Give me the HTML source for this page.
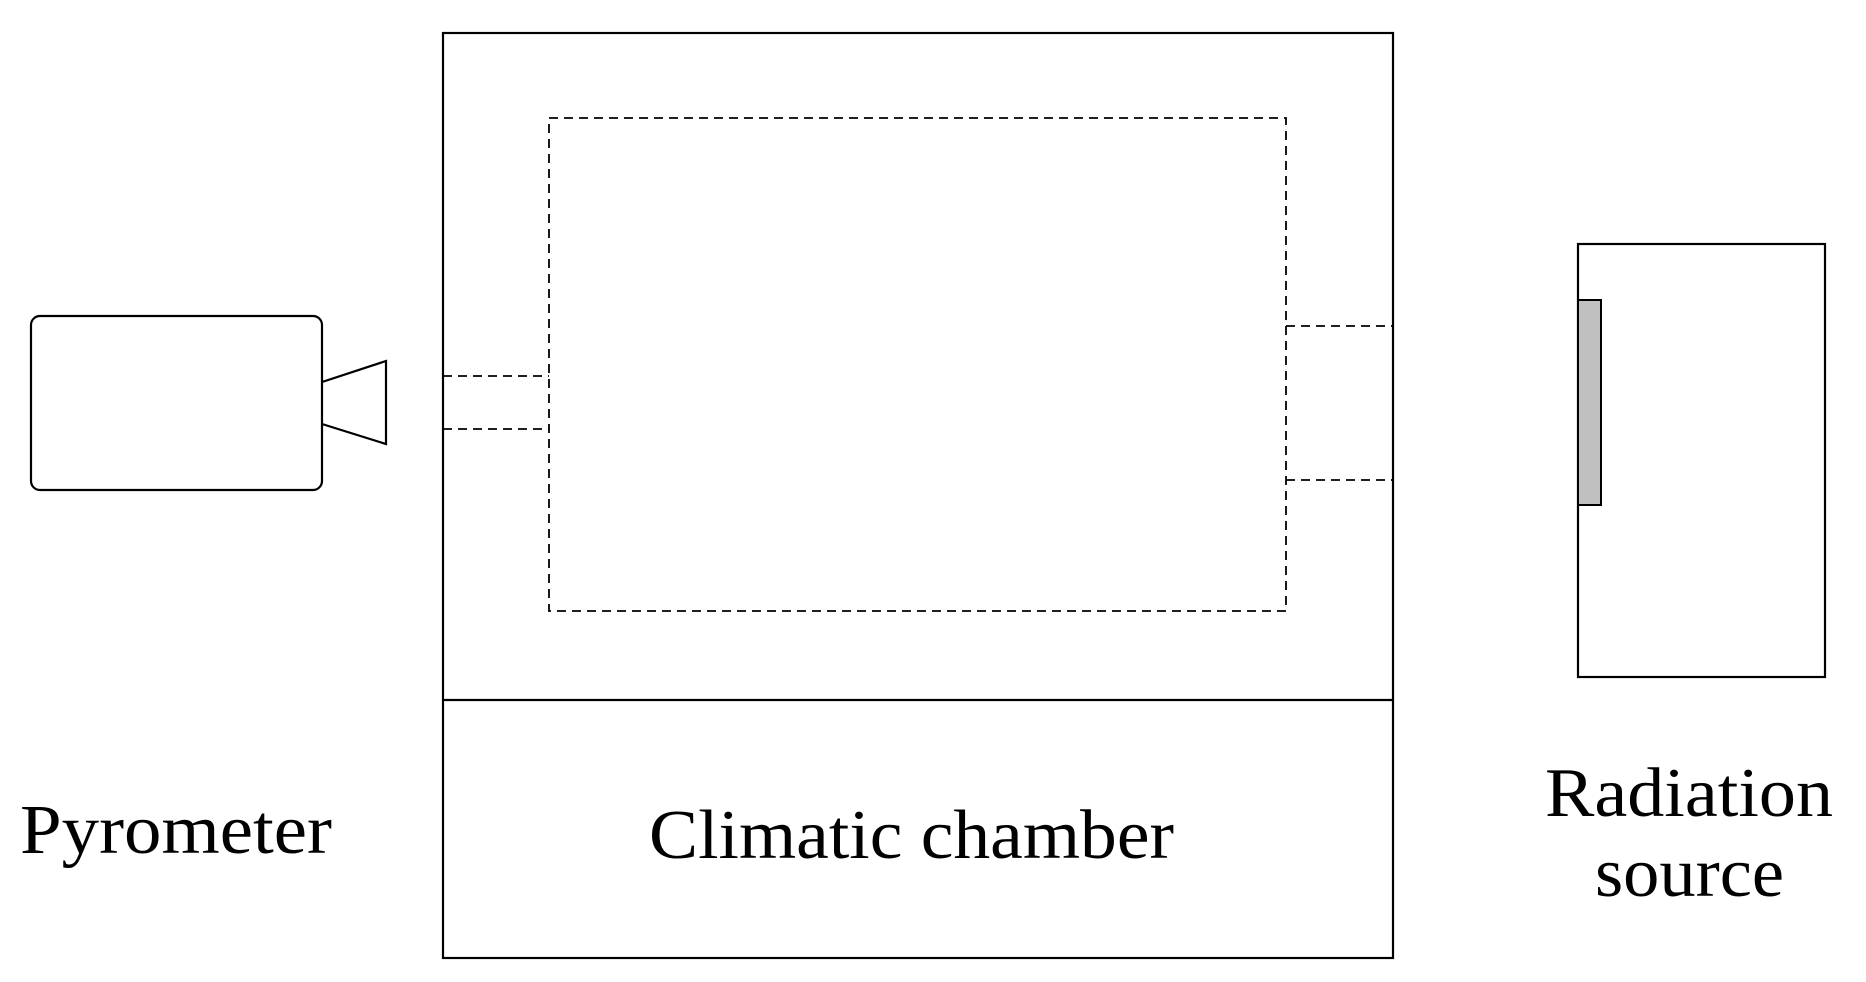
<!DOCTYPE html>
<html><head><meta charset="utf-8"><style>html,body{margin:0;padding:0;background:#fff}svg{display:block}</style></head>
<body>
<svg width="1866" height="982" viewBox="0 0 1866 982" xmlns="http://www.w3.org/2000/svg">
<g fill="none" stroke="#000" stroke-width="2.2">
<rect x="443" y="33" width="950" height="925"/>
<line x1="443" y1="700" x2="1393" y2="700"/>
<g stroke-dasharray="9,6" stroke-width="1.8">
<rect x="549" y="118" width="737" height="493"/>
<line x1="443" y1="376" x2="549" y2="376"/>
<line x1="443" y1="429" x2="549" y2="429"/>
<line x1="1286" y1="326" x2="1393" y2="326"/>
<line x1="1286" y1="480" x2="1393" y2="480"/>
</g>
<rect x="31" y="316" width="291" height="174" rx="9"/>
<polyline points="322,382 386,361 386,444 322,424"/>
<rect x="1578" y="244" width="247" height="433"/>
</g>
<rect x="1578" y="300" width="23" height="205" fill="#c0c0c0" stroke="#000" stroke-width="2"/>
<g font-family="Liberation Serif, serif" font-size="70" fill="#000">
<text x="20" y="853" textLength="312" lengthAdjust="spacingAndGlyphs">Pyrometer</text>
<text x="649" y="858" textLength="525" lengthAdjust="spacingAndGlyphs">Climatic chamber</text>
<text x="1545" y="816" textLength="288" lengthAdjust="spacingAndGlyphs">Radiation</text>
<text x="1595" y="896" textLength="189" lengthAdjust="spacingAndGlyphs">source</text>
</g>
</svg>
</body></html>
